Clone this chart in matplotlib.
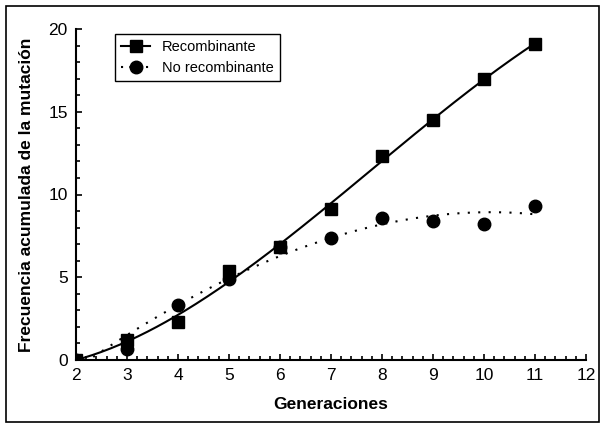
import numpy as np
import matplotlib.pyplot as plt
from matplotlib.ticker import MultipleLocator

plt.rcParams['font.family'] = ['Liberation Sans', 'DejaVu Sans']

generaciones = [2, 3, 4, 5, 6, 7, 8, 9, 10, 11]
recombinante = [0, 1.2, 2.3, 5.4, 6.8, 9.1, 12.3, 14.5, 17.0, 19.1]
no_recombinante = [0, 0.65, 3.3, 4.9, 6.8, 7.4, 8.6, 8.4, 8.2, 9.3]

fig = plt.figure(figsize=(6.05, 4.28), dpi=100)
ax = fig.add_axes([76 / 605, 68 / 428, 510 / 605, 331 / 428])

# trend lines (polynomial fit, as the spreadsheet did)
xs = np.linspace(2, 11, 200)
p1 = np.polyfit(generaciones, recombinante, 3)
p2 = np.polyfit(generaciones, no_recombinante, 3)
ax.plot(xs, np.polyval(p1, xs), color='black', lw=1.5, ls='-')
ax.plot(xs, np.polyval(p2, xs), color='black', lw=1.5, ls=(0, (1, 4)))

ax.plot(generaciones, no_recombinante, 'o', color='black', ms=9, zorder=3)
ax.plot(generaciones, recombinante, 's', color='black', ms=9, zorder=4)

h1, = ax.plot([], [], 's', color='black', ms=9, ls='-', lw=1.5)
h2, = ax.plot([], [], 'o', color='black', ms=9, ls=(0, (1, 3)), lw=1.5)
leg = ax.legend([h1, h2], ['Recombinante', 'No recombinante'], loc='upper left',
                bbox_to_anchor=(0.063, 1.006), fancybox=False, framealpha=1,
                edgecolor='black', handlelength=2, fontsize=10.5, borderpad=0.4,
                labelspacing=0.5)
leg.get_frame().set_linewidth(1)

ax.set_xlim(2, 12)
ax.set_ylim(0, 20)
ax.xaxis.set_major_locator(MultipleLocator(1))
ax.xaxis.set_minor_locator(MultipleLocator(0.2))
ax.yaxis.set_major_locator(MultipleLocator(5))
ax.yaxis.set_minor_locator(MultipleLocator(1))
ax.tick_params(which='both', direction='in', labelsize=12.5, width=1.2)
ax.tick_params(which='major', length=4, pad=6)
ax.tick_params(which='minor', length=3)
ax.spines['top'].set_visible(False)
ax.spines['right'].set_visible(False)
ax.spines['left'].set_linewidth(1.5)
ax.spines['bottom'].set_linewidth(1.5)

ax.set_xlabel('Generaciones', fontsize=12.5, fontweight='bold', labelpad=10)
ax.set_ylabel('Frecuencia acumulada de la mutación', fontsize=12.5, fontweight='bold', labelpad=10)

fig.patches.append(plt.Rectangle((6 / 605, 6 / 428), 593 / 605, 416 / 428, transform=fig.transFigure,
                                 fill=False, edgecolor='black', lw=1.2))

plt.savefig('out.png', dpi=100)
